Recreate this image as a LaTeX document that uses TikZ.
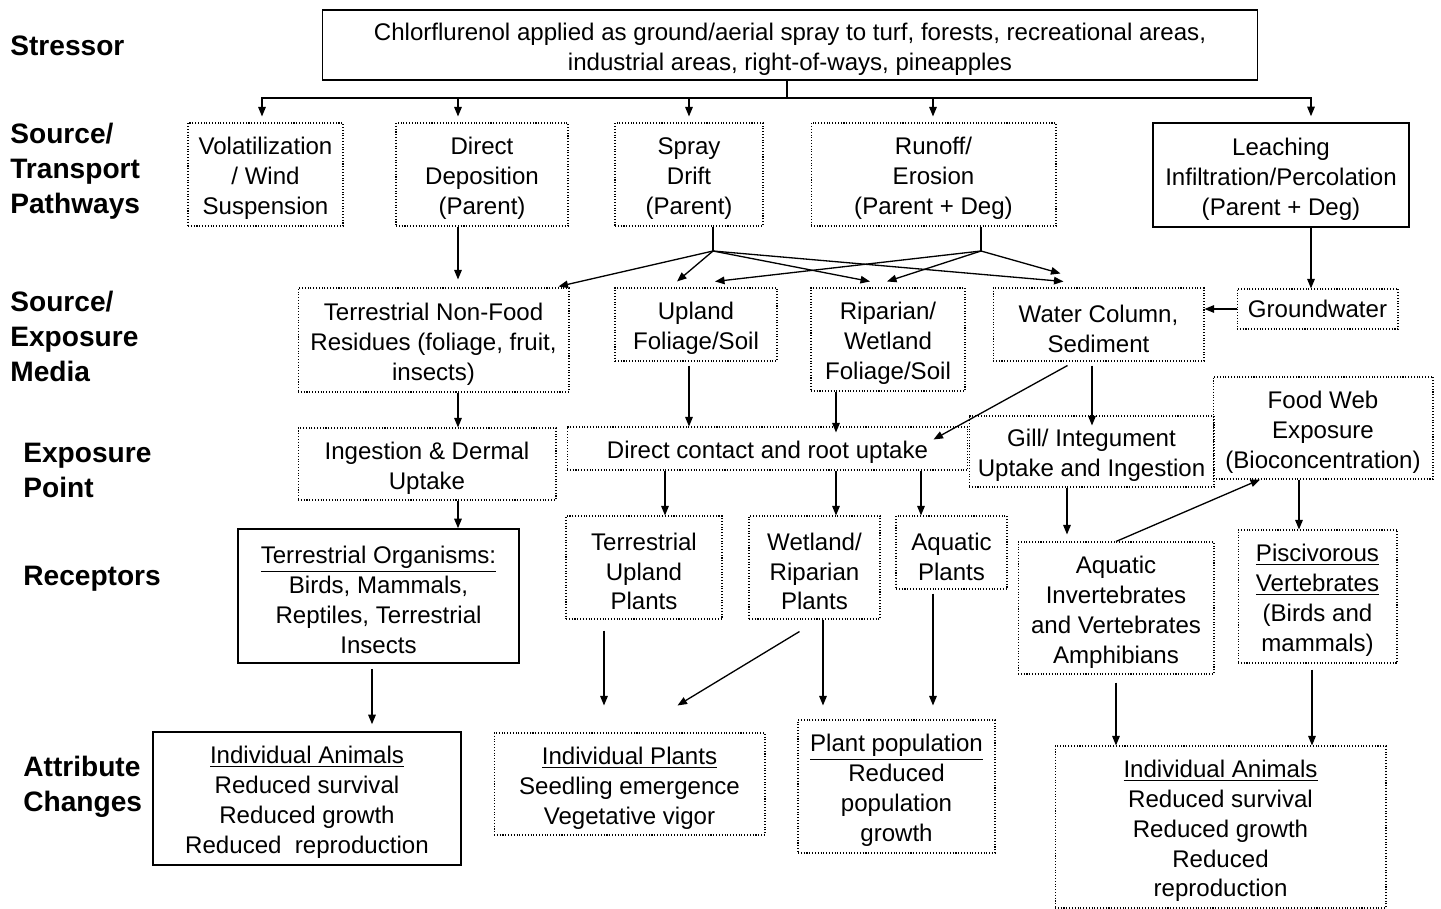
\documentclass[tikz,border=0pt]{standalone}
\usepackage{fontspec}
\setmainfont{Liberation Sans}
\usetikzlibrary{arrows.meta}
\newcommand\boxstrut{\rule{0pt}{14.5pt}}

\begin{document}
\begin{tikzpicture}[x=0.02cm,y=-0.02cm,
    >={Triangle[length=0.19cm,width=0.15cm]},
    every node/.style={inner sep=0pt,align=center,font=\fontsize{13.7}{17}\selectfont},
    dotbox/.style={draw,densely dotted,line width=0.6pt},
    solidbox/.style={draw,line width=0.9pt},
    lbl/.style={anchor=west,align=left,font=\bfseries\fontsize{16}{19.9}\selectfont},
    link/.style={->,line width=0.75pt}]
  \useasboundingbox (0,0) rectangle (1441,909);

  % row labels
  \node[lbl] (lstress) at (10,46) {Stressor};
  \node[lbl] (lpath) at (10,171) {Source/\\Transport\\Pathways};
  \node[lbl] (lmedia) at (10,336) {Source/\\Exposure\\Media};
  \node[lbl] (lpoint) at (23,470) {Exposure\\Point};
  \node[lbl] (lrecep) at (23,579) {Receptors};
  \node[lbl] (lattr) at (23,787) {Attribute\\Changes};

  % stressor
  \node[solidbox,minimum width=18.7cm,minimum height=1.4cm] (stressor) at (790,45) {\boxstrut Chlorflurenol applied as ground/aerial spray to turf, forests, recreational areas,\\industrial areas, right-of-ways, pineapples};

  % source / transport pathways
  \node[dotbox,minimum width=3.1cm,minimum height=2.06cm] (volat) at (265.5,174.5) {\boxstrut Volatilization\\/ Wind\\Suspension};
  \node[dotbox,minimum width=3.44cm,minimum height=2.06cm] (direct) at (482,174.5) {\boxstrut Direct\\Deposition\\(Parent)};
  \node[dotbox,minimum width=2.96cm,minimum height=2.06cm] (spray) at (689,174.5) {\boxstrut Spray\\Drift\\(Parent)};
  \node[dotbox,minimum width=4.9cm,minimum height=2.06cm] (runoff) at (933.5,174.5) {\boxstrut Runoff/\\Erosion\\(Parent + Deg)};
  \node[solidbox,minimum width=5.12cm,minimum height=2.08cm] (leach) at (1281,175) {\boxstrut Leaching\\Infiltration/Percolation\\(Parent + Deg)};

  % source / exposure media
  \node[dotbox,minimum width=5.42cm,minimum height=2.08cm] (tnf) at (433.5,340) {\boxstrut Terrestrial Non-Food\\Residues (foliage, fruit,\\insects)};
  \node[dotbox,minimum width=3.24cm,minimum height=1.46cm] (upland) at (696,324.5) {\boxstrut Upland\\Foliage/Soil};
  \node[dotbox,minimum width=3.08cm,minimum height=2.06cm] (ripfol) at (888,339.5) {\boxstrut Riparian/\\Wetland\\Foliage/Soil};
  \node[dotbox,minimum width=4.22cm,minimum height=1.46cm] (water) at (1098.5,324.5) {\boxstrut Water Column,\\Sediment};
  \node[dotbox,minimum width=3.22cm,minimum height=0.8cm] (ground) at (1317.5,309) {Groundwater};

  % exposure point
  \node[dotbox,minimum width=5.16cm,minimum height=1.44cm] (ingest) at (427,464) {\boxstrut Ingestion \& Dermal\\Uptake};
  \node[dotbox,minimum width=8.02cm,minimum height=0.86cm] (contact) at (767.5,448.5) {\boxstrut Direct contact and root uptake};
  \node[dotbox,minimum width=4.9cm,minimum height=1.42cm] (gill) at (1091.5,451.5) {\boxstrut Gill/ Integument\\Uptake and Ingestion};
  \node[dotbox,minimum width=4.4cm,minimum height=2.04cm] (foodweb) at (1323,428) {\boxstrut Food Web\\Exposure\\(Bioconcentration)};

  % receptors
  \node[solidbox,minimum width=5.62cm,minimum height=2.68cm] (terrorg) at (378.5,596) {\boxstrut\underline{Terrestrial Organisms:}\\Birds, Mammals,\\Reptiles, Terrestrial\\Insects};
  \node[dotbox,minimum width=3.12cm,minimum height=2.06cm] (tuplants) at (644,567.5) {\boxstrut Terrestrial\\Upland\\Plants};
  \node[dotbox,minimum width=2.62cm,minimum height=2.06cm] (wrplants) at (814.5,567.5) {\boxstrut Wetland/\\Riparian\\Plants};
  \node[dotbox,minimum width=2.22cm,minimum height=1.46cm] (aqplants) at (951.5,552.5) {\boxstrut Aquatic\\Plants};
  \node[dotbox,minimum width=3.92cm,minimum height=2.64cm] (aqinv) at (1116,608) {\boxstrut Aquatic\\Invertebrates\\and Vertebrates\\Amphibians};
  \node[dotbox,minimum width=3.18cm,minimum height=2.66cm] (pisc) at (1317.5,596.5) {\boxstrut\underline{Piscivorous}\\\underline{Vertebrates}\\(Birds and\\mammals)};

  % attribute changes
  \node[solidbox,minimum width=6.16cm,minimum height=2.66cm] (indanim) at (307,798.5) {\boxstrut\underline{Individual Animals}\\Reduced survival\\Reduced growth\\Reduced\ \ reproduction};
  \node[dotbox,minimum width=5.42cm,minimum height=2.04cm] (indplants) at (629.5,784) {\boxstrut\underline{Individual Plants}\\Seedling emergence\\Vegetative vigor};
  \node[dotbox,minimum width=3.94cm,minimum height=2.66cm] (plantpop) at (896.5,786.5) {\boxstrut\underline{Plant population}\\Reduced\\population\\growth};
  \node[dotbox,minimum width=6.62cm,minimum height=3.24cm] (indanim2) at (1220.5,827) {\boxstrut\underline{Individual Animals}\\Reduced survival\\Reduced growth\\Reduced\\reproduction};

  % stressor to pathways
  \coordinate (bus) at (787,98);
  \draw[line width=0.75pt] (stressor.south -| bus) -- (bus);
  \foreach \n/\x in {volat/262,direct/458,spray/689,runoff/933,leach/1311}
    \draw[link,shorten >=0.12cm] (bus) -| (\n.north -| \x,0);

  % pathways to media
  \coordinate (sfan) at (713,251);
  \coordinate (rfan) at (981,251);
  \draw[line width=0.75pt] (spray.south -| sfan) -- (sfan);
  \draw[line width=0.75pt] (runoff.south -| rfan) -- (rfan);
  \draw[link] (sfan) -- ([shift={(-11,-1)}]tnf.north east);
  \draw[link] (sfan) -- ([shift={(-19,-6)}]upland.north);
  \draw[link] (sfan) -- ([shift={(-18,-6)}]ripfol.north);
  \draw[link] (sfan) -- ([shift={(-35,-6)}]water.north);
  \draw[link] (rfan) -- ([shift={(19,-6)}]upland.north);
  \draw[link] (rfan) -- ([shift={(-1,-6)}]ripfol.north);
  \draw[link] (rfan) -- ([shift={(-38,-14)}]water.north);
  \draw[link,shorten >=0.16cm] (direct.south -| 458,0) -- (tnf.north -| 458,0);
  \draw[link] (leach.south -| 1311,0) -- (ground.north -| 1311,0);
  \draw[link] (ground.west) -- (ground.west -| water.east);

  % media to exposure point
  \draw[link] (tnf.south -| 458,0) -- (ingest.north -| 458,0);
  \draw[link,shorten <=0.08cm] (upland.south -| 689,0) -- (contact.north -| 689,0);
  \draw[link,shorten >=-0.12cm] (ripfol.south -| 836,0) -- (contact.north -| 836,0);
  \draw[link] ([shift={(-31,4)}]water.south) -- ([shift={(-35,13)}]contact.north east);
  \draw[link,shorten <=0.08cm,shorten >=-0.2cm] (water.south -| 1092,0) -- (gill.north -| 1092,0);

  % exposure point to receptors
  \draw[link] (ingest.south -| 458,0) -- (terrorg.north -| 458,0);
  \foreach \n/\x in {tuplants/665,wrplants/836,aqplants/921}
    \draw[link] (contact.south -| \x,0) -- (\n.north -| \x,0);
  \draw[link,shorten >=0.14cm] (gill.south -| 1067,0) -- (aqinv.north -| 1067,0);
  \draw[link] (aqinv.north) -- ([shift={(-63,0)}]foodweb.south);
  \draw[link] (foodweb.south -| 1299,0) -- (pisc.north -| 1299,0);

  % receptors to attribute changes
  \draw[link,shorten <=0.1cm,shorten >=0.14cm] (terrorg.south -| 372,0) -- (indanim.north -| 372,0);
  \draw[link,shorten <=0.22cm,shorten >=0.54cm] (tuplants.south -| 604,0) -- (indplants.north -| 604,0);
  \draw[link] ([shift={(-15,12)}]wrplants.south) -- ([shift={(48,-27)}]indplants.north);
  \draw[link,shorten >=0.28cm] (wrplants.south -| 823,0) -- (plantpop.north -| 823,0);
  \draw[link,shorten <=0.08cm,shorten >=0.28cm] (aqplants.south -| 933,0) -- (plantpop.north -| 933,0);
  \draw[link,shorten <=0.16cm] (aqinv.south -| 1116,0) -- (indanim2.north -| 1116,0);
  \draw[link,shorten <=0.12cm] (pisc.south -| 1312,0) -- (indanim2.north -| 1312,0);
\end{tikzpicture}
\end{document}
